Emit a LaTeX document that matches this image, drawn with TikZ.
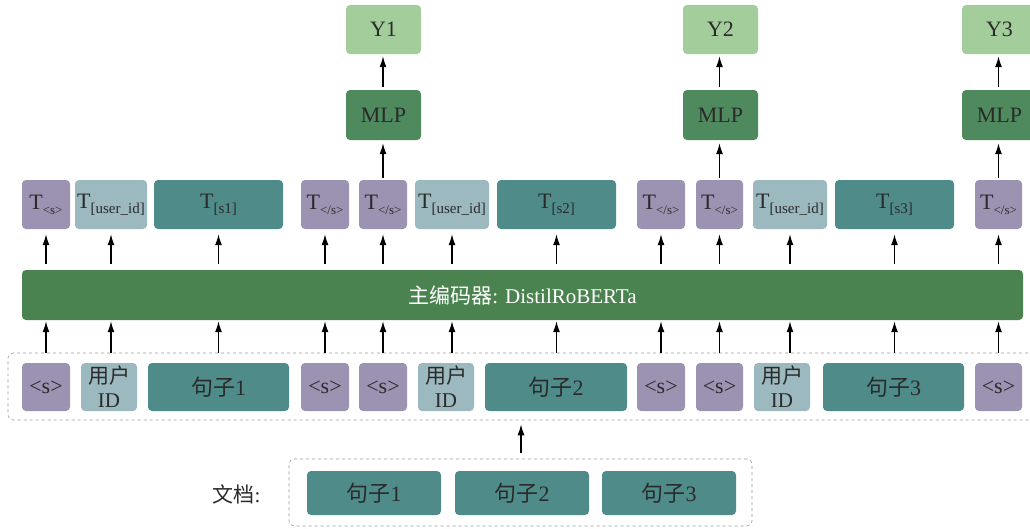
\documentclass[tikz,border=0pt]{standalone}
\usepackage{fontspec}
\setmainfont{Liberation Serif}
\newfontfamily\cjk{Noto Sans CJK SC}
\usetikzlibrary{arrows.meta,fit}
\definecolor{tokpurple}{HTML}{9B93B1}
\definecolor{tokid}{HTML}{9CB9BF}
\definecolor{toksent}{HTML}{4F8B89}
\definecolor{encgreen}{HTML}{4A8350}
\definecolor{mlpgreen}{HTML}{4F8A5E}
\definecolor{outgreen}{HTML}{A3CE9B}
\definecolor{txt}{HTML}{2A2A2A}
% token label with a lowered index, e.g. T_[s1]
\newcommand{\tsub}[2][15]{T\raisebox{-0.5ex}{\fontsize{#1}{#1}\selectfont #2}}
\tikzset{
  tok/.style={rounded corners=4pt, inner sep=0pt, text=txt, font=\fontsize{22}{23}\selectfont, align=center},
  spec/.style={tok, fill=tokpurple},
  uid/.style={tok, fill=tokid},
  sent/.style={tok, fill=toksent},
  twoline/.style={font=\fontsize{21}{24}\selectfont},
  mlpbox/.style={tok, fill=mlpgreen, minimum width=75pt, minimum height=50pt},
  outbox/.style={tok, fill=outgreen, minimum width=75pt, minimum height=49pt},
  grp/.style={draw=gray!80, dashed, line width=0.6pt, rounded corners=5pt, inner sep=0pt},
  arr/.style={-{Latex[length=11pt,width=7pt]}, line width=1.3pt, black},
}
% box from x-range, y-range (pixels, y pointing down)
\newcommand{\bx}[7]{\node[#6, minimum width={#3-#2}, minimum height={#5-#4}] (#1) at ({(#2+#3)/2},{(#4+#5)/2}) {#7};}
\begin{document}
\begin{tikzpicture}[x=1pt,y=-1pt]
\useasboundingbox (0,0) rectangle (1030,528);

% ---- output row: token embeddings ----
\bx{ts1}{22}{70}{180}{229}{spec}{\tsub[13]{<s>}}
\bx{tu1}{75}{147}{180}{229}{uid}{\tsub{[user\_id]}}
\bx{tss1}{154}{283}{180}{229}{sent}{\tsub{[s1]}}
\bx{te1}{301}{349}{180}{229}{spec}{\tsub[13]{</s>}}
\bx{te1b}{359}{407}{180}{229}{spec}{\tsub[13]{</s>}}
\bx{tu2}{415}{489}{180}{229}{uid}{\tsub{[user\_id]}}
\bx{tss2}{497}{616}{180}{229}{sent}{\tsub{[s2]}}
\bx{te2}{637}{685}{180}{229}{spec}{\tsub[13]{</s>}}
\bx{te2b}{696}{743}{180}{229}{spec}{\tsub[13]{</s>}}
\bx{tu3}{753}{827}{180}{229}{uid}{\tsub{[user\_id]}}
\bx{tss3}{835}{954}{180}{229}{sent}{\tsub{[s3]}}
\bx{te3}{975}{1022}{180}{229}{spec}{\tsub[13]{</s>}}

% ---- encoder ----
\bx{enc}{22}{1023}{270}{320}{tok, fill=encgreen, text=white, font=\fontsize{21}{22}\selectfont}{{\cjk 主编码器}: DistilRoBERTa}

% ---- input row ----
\bx{b1}{22}{70}{363}{411}{spec}{<s>}
\bx{bu1}{81}{137}{363}{411}{uid, twoline}{{\cjk 用户}\\ID}
\bx{bs1}{148}{289}{363}{411}{sent}{{\cjk 句子}1}
\bx{b2}{301}{349}{363}{411}{spec}{<s>}
\bx{b2b}{359}{407}{363}{411}{spec}{<s>}
\bx{bu2}{418}{474}{363}{411}{uid, twoline}{{\cjk 用户}\\ID}
\bx{bs2}{485}{627}{363}{411}{sent}{{\cjk 句子}2}
\bx{b3}{637}{685}{363}{411}{spec}{<s>}
\bx{b3b}{696}{743}{363}{411}{spec}{<s>}
\bx{bu3}{754}{810}{363}{411}{uid, twoline}{{\cjk 用户}\\ID}
\bx{bs3}{823}{964}{363}{411}{sent}{{\cjk 句子}3}
\bx{b4}{975}{1022}{363}{411}{spec}{<s>}
\coordinate (inTL) at (8,353);
\coordinate (inBR) at (1045,420);
\node[grp, fit=(inTL)(inBR)] (inp) {};

% ---- heads ----
\bx{mlp1}{346}{421}{90}{140}{mlpbox}{MLP}
\bx{y1}{346}{421}{5}{54}{outbox}{Y1}
\bx{mlp2}{683}{758}{90}{140}{mlpbox}{MLP}
\bx{y2}{683}{758}{5}{54}{outbox}{Y2}
\bx{mlp3}{962}{1037}{90}{140}{mlpbox}{MLP}
\bx{y3}{962}{1037}{5}{54}{outbox}{Y3}

% ---- document ----
\bx{d1}{307}{441}{471}{515}{sent}{{\cjk 句子}1}
\bx{d2}{455}{589}{471}{515}{sent}{{\cjk 句子}2}
\bx{d3}{602}{736}{471}{515}{sent}{{\cjk 句子}3}
\coordinate (docTL) at (289,459);
\coordinate (docBR) at (752,526);
\node[grp, fit=(docTL)(docBR)] (doc) {};
\node[anchor=east, text=txt, font=\fontsize{21}{22}\selectfont] (doclbl) at (264,494) {{\cjk 文档}:};

% ---- connectors ----
\foreach \t in {ts1,tu1,tss1,te1,te1b,tu2,tss2,te2,te2b,tu3,tss3,te3}{
  \draw[arr, shorten >=1pt] (\t |- inp.north) -- (\t |- enc.south);
  \draw[arr, shorten <=6pt, shorten >=5pt] (\t |- enc.north) -- (\t.south);
}
\foreach \t/\m/\y in {te1b/mlp1/y1, te2b/mlp2/y2, te3/mlp3/y3}{
  \draw[arr, shorten <=2pt, shorten >=3pt] (\t.north) -- (\t |- \m.south);
  \draw[arr, shorten <=3pt, shorten >=2pt] (\t |- \m.north) -- (\t |- \y.south);
}
\draw[arr, shorten <=6pt, shorten >=4pt] (doc.north -| 521,0) -- (inp.south -| 521,0);
\end{tikzpicture}
\end{document}
